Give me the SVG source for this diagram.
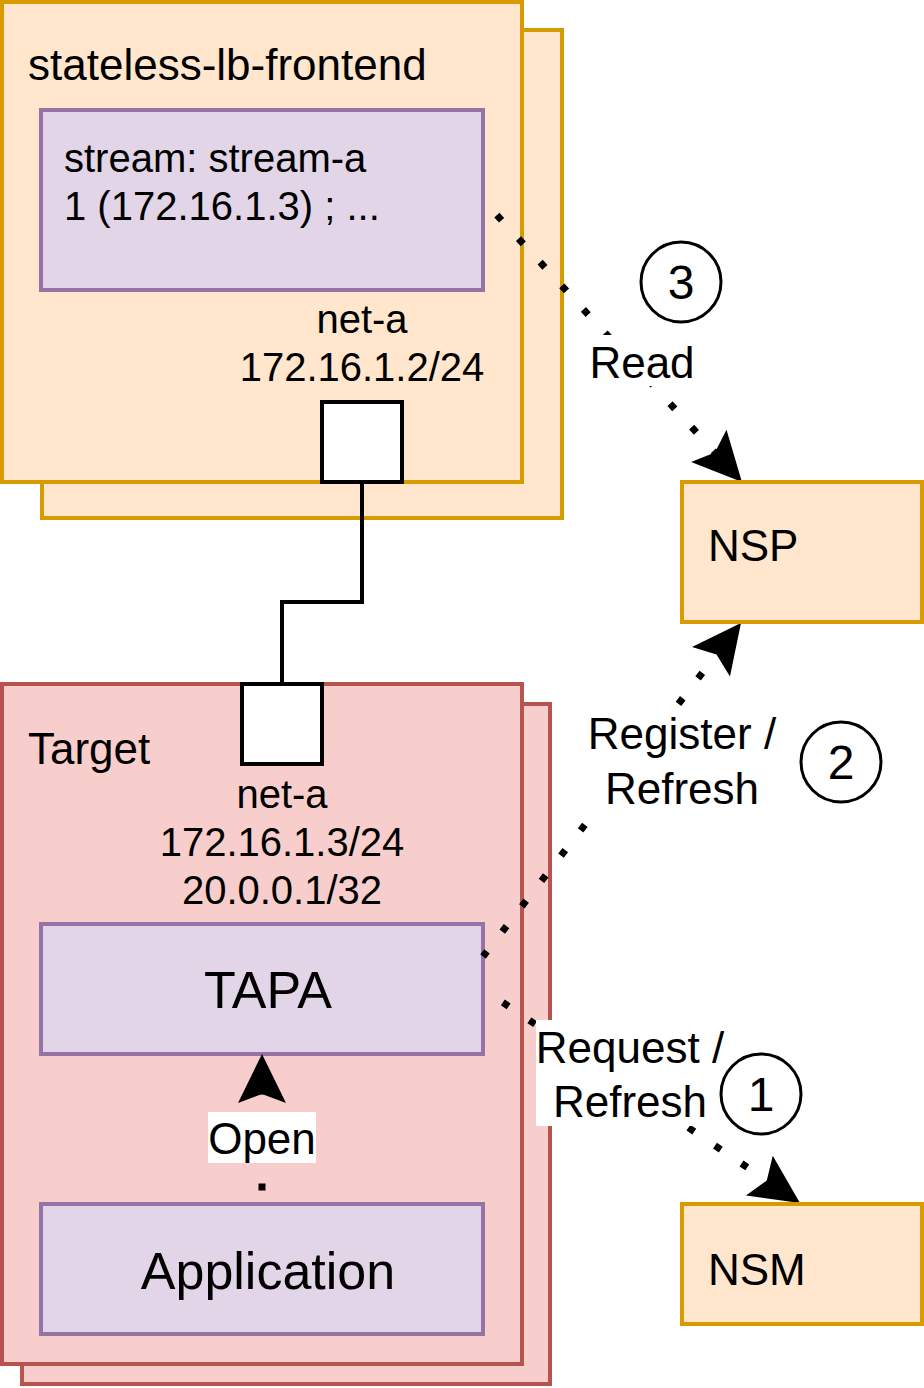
<svg xmlns="http://www.w3.org/2000/svg" width="924" height="1388" viewBox="0 0 924 1388">
<defs>
<style>
text{font-family:"Liberation Sans",Arial,Helvetica,sans-serif;fill:#000}
.orange{fill:#ffe6cc;stroke:#d79b00;stroke-width:4}
.red{fill:#f8cecc;stroke:#b85450;stroke-width:4}
.purple{fill:#e1d5e7;stroke:#9673a6;stroke-width:4}
.port{fill:#fff;stroke:#000;stroke-width:4}
.step{fill:#fff;stroke:#000;stroke-width:3}
.f40{font-size:40px}
.f44{font-size:44px}
.f48{font-size:48px}
.f52{font-size:52px}
.mid{text-anchor:middle}
.link{fill:none;stroke:#000;stroke-width:4}
.dotted{fill:none;stroke:#000;stroke-width:7;stroke-dasharray:7 25;marker-end:url(#arr)}
.lblbg{fill:#fff}
</style>
<marker id="arr" markerUnits="userSpaceOnUse" orient="auto" refX="0" refY="0" markerWidth="52" markerHeight="50" viewBox="-10 -25 52 50" overflow="visible">
<path d="M40,0 L-9,-24 L0,0 L-9,24 Z" fill="#000"/>
</marker>
</defs>
<rect width="924" height="1388" fill="#fff"/>

<g id="frontend">
<rect class="orange" x="42" y="30" width="520" height="488"/>
<rect class="orange" x="2" y="2" width="520" height="480"/>
<text class="f44" x="28" y="80">stateless-lb-frontend</text>
</g>
<g id="stream">
<rect class="purple" x="41" y="110" width="442" height="180"/>
<text class="f40" x="64" y="172">stream: stream-a</text>
<text class="f40" x="64" y="220">1 (172.16.1.3) ; ...</text>
</g>
<g id="frontend-port">
<text class="f40 mid" x="362" y="333">net-a</text>
<text class="f40 mid" x="362" y="381">172.16.1.2/24</text>
<rect class="port" x="322" y="402" width="80" height="80"/>
</g>

<g id="target">
<rect class="red" x="22" y="704" width="528" height="680"/>
<rect class="red" x="2" y="684" width="520" height="680"/>
<text class="f44" x="28" y="764">Target</text>
</g>
<g id="tapa">
<rect class="purple" x="41" y="924" width="442" height="130"/>
<text class="f52 mid" x="268" y="1008">TAPA</text>
</g>
<g id="application">
<rect class="purple" x="41" y="1204" width="442" height="130"/>
<text class="f52 mid" x="268" y="1289">Application</text>
</g>

<g id="connectors">
<path class="link" d="M362,482 V602 H282 V684"/>
<path class="dotted" style="stroke-dashoffset:11.5" d="M483,200 L714.9,452.5"/>
<path class="dotted" style="stroke-dashoffset:0.5" d="M483,956.5 L716.5,654.6"/>
<path class="dotted" style="stroke-dashoffset:8.1" d="M483,989 L766.8,1180.6"/>
<path class="dotted" style="stroke-dashoffset:18.5" d="M262,1204 L262,1094"/>
<g id="label-read">
<rect class="lblbg" x="589" y="335" width="107" height="51"/>
<text class="f44 mid" x="642" y="378">Read</text>
</g>
<g id="label-register">
<rect class="lblbg" x="588" y="706" width="188" height="106"/>
<text class="f44 mid" x="682" y="749">Register /</text>
<text class="f44 mid" x="682" y="804">Refresh</text>
</g>
<g id="label-request">
<rect class="lblbg" x="536" y="1020" width="188" height="106"/>
<text class="f44 mid" x="630" y="1063">Request /</text>
<text class="f44 mid" x="630" y="1117">Refresh</text>
</g>
<g id="label-open">
<rect class="lblbg" x="208" y="1112" width="108" height="51"/>
<text class="f44 mid" x="262" y="1154">Open</text>
</g>
</g>

<g id="target-port">
<rect class="port" x="242" y="684" width="80" height="80"/>
<text class="f40 mid" x="282" y="808">net-a</text>
<text class="f40 mid" x="282" y="856">172.16.1.3/24</text>
<text class="f40 mid" x="282" y="904">20.0.0.1/32</text>
</g>

<g id="nsp">
<rect class="orange" x="682" y="482" width="240" height="140"/>
<text class="f44" x="708" y="561">NSP</text>
</g>
<g id="nsm">
<rect class="orange" x="682" y="1204" width="240" height="120"/>
<text class="f44" x="708" y="1285">NSM</text>
</g>

<g id="step3">
<circle class="step" cx="681" cy="282" r="40"/>
<text class="f48 mid" x="681" y="299">3</text>
</g>
<g id="step2">
<circle class="step" cx="841" cy="762" r="40"/>
<text class="f48 mid" x="841" y="779">2</text>
</g>
<g id="step1">
<circle class="step" cx="761" cy="1094" r="40"/>
<text class="f48 mid" x="761" y="1111">1</text>
</g>
</svg>
